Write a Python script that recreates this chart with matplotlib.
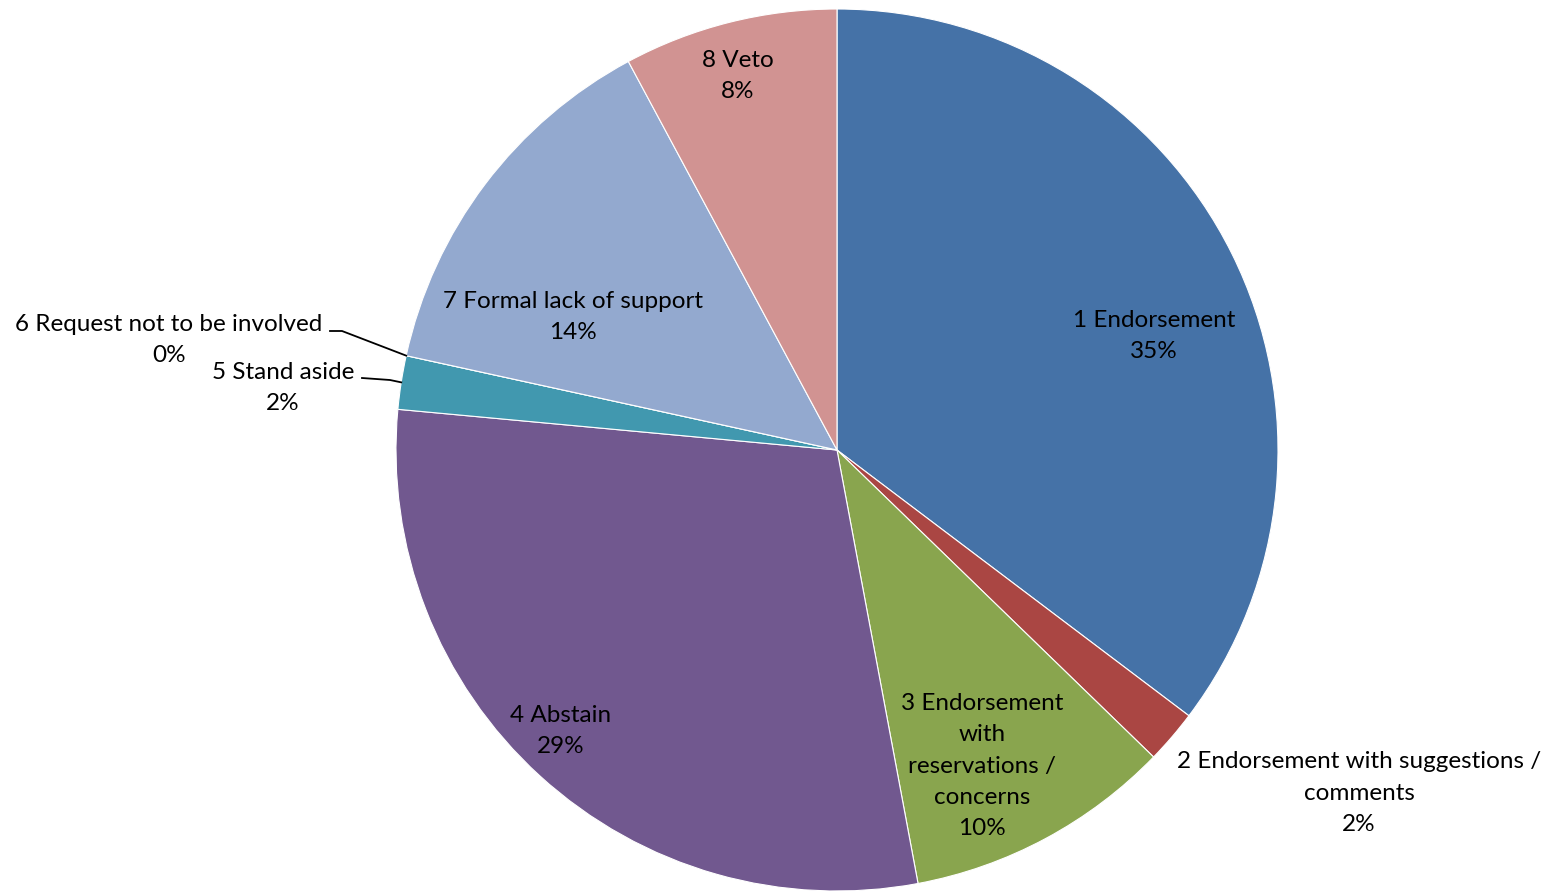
import matplotlib.pyplot as plt
import numpy as np

plt.rcParams['font.family'] = ['Lato', 'DejaVu Sans']

labels = ["1 Endorsement", "2 Endorsement with suggestions /\ncomments",
          "3 Endorsement\nwith\nreservations /\nconcerns", "4 Abstain",
          "5 Stand aside", "6 Request not to be involved",
          "7 Formal lack of support", "8 Veto"]
counts = [18, 1, 5, 15, 1, 0, 7, 4]
colors = ["#4572A7", "#AA4643", "#89A54E", "#71588F",
          "#4198AF", "#DB843D", "#93A9CF", "#D19392"]
# label centres in pixel coords of the 1550x891 image
label_pos = [(1154, 336), (1359, 793), (982, 766), (561, 731),
             (283, 388), (169, 340), (573, 317), (738, 76)]

W, H = 1550, 891
cx, cy, R = 837, 450, 441

fig = plt.figure(figsize=(W / 100, H / 100), dpi=100)
ax = fig.add_axes([0, 0, 1, 1])

# pie in flipped-y coords: clockwise visually from top
wedges, _ = ax.pie(counts, colors=colors, startangle=-90, counterclock=True,
                   center=(cx, cy), radius=R, frame=True,
                   wedgeprops=dict(edgecolor='white', linewidth=0.8))
ax.set_xlim(0, W)
ax.set_ylim(H, 0)
ax.set_aspect('equal')
ax.axis('off')

total = sum(counts)
for lab, c, (x, y) in zip(labels, counts, label_pos):
    pct = round(100 * c / total)
    ax.text(x, y, f"{lab}\n{pct}%", ha='center', va='center',
            fontsize=17.5, linespacing=1.6, color='black')

# leader lines for the two thin slices
def edge_point(frac):
    ang = np.pi / 2 - 2 * np.pi * frac
    return cx + R * np.cos(ang), cy - R * np.sin(ang)

cum = np.cumsum(counts) / total
x5, y5 = edge_point(cum[3] + counts[4] / total / 2)
ax.plot([362, 390, x5], [378, 380, y5], color='black', lw=1.3)
x6, y6 = edge_point(cum[5])
ax.plot([330, 342, x6], [331, 331, y6], color='black', lw=1.3)

fig.savefig("out.png", dpi=100)
